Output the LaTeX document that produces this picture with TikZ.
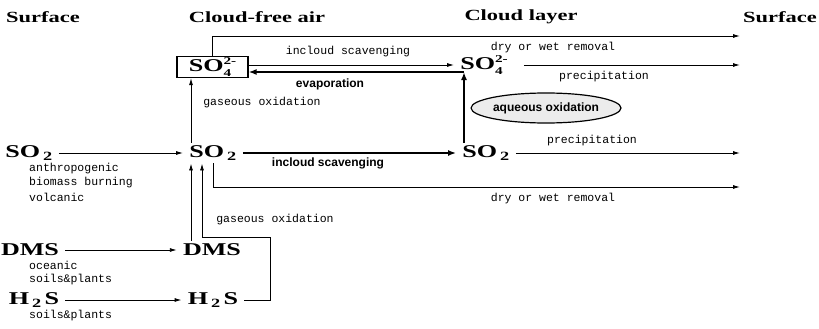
\documentclass[tikz,border=0pt]{standalone}
\usepackage{fontspec}
\setmainfont{Liberation Serif}
\newfontfamily\widefont[FakeStretch=1.45]{Liberation Serif}
\newfontfamily\monofont{Liberation Mono}
\newfontfamily\procfont{Liberation Sans}
\usepackage{tikz}
\usetikzlibrary{arrows.meta}
\usetikzlibrary{shapes.geometric}
\usetikzlibrary{positioning}

\newcommand{\ionsize}{\fontsize{10.5}{10.5}\selectfont}
\newcommand{\sulfate}{SO\rlap{\raisebox{0.85ex}{\ionsize 2-}}\raisebox{-0.6ex}{\ionsize 4}\hphantom{\ionsize -}}

\tikzset{
  header/.style={font=\fontsize{15.5}{17}\widefont\bfseries},
  chem/.style={font=\fontsize{18}{20}\widefont\bfseries, inner xsep=6pt, inner ysep=3pt},
  chembox/.style={chem, draw, line width=1.2pt, minimum width=71pt, minimum height=21pt, inner sep=0pt},
  note/.style={font=\fontsize{11.5}{13}\monofont, inner sep=0pt},
  process/.style={font=\fontsize{12}{14}\procfont\bfseries, inner sep=0pt},
  flow/.style={-{Latex[length=7pt,width=4pt]}, line width=0.9pt},
  bigflow/.style={-{Latex[length=8pt,width=6pt]}, line width=1.8pt},
}

\begin{document}
\begin{tikzpicture}[x=1pt, y=-1pt]
        \useasboundingbox (0,0) rectangle (819,329);
        % column headings
        \node[header] (hsurf) at (43,17) {Surface};
        \node[header] (hfree) at (257,17) {Cloud-free air};
        \node[header] (hcloud) at (521,17) {Cloud layer};
        \node[header] (hsurfr) at (780,17) {Surface};

        % species
        \node[chem] (so2l) at (29,153) {SO\,\textsubscript{2}};
        \node[chem] (so2m) at (213,153) {SO\,\textsubscript{2}};
        \node[chem] (so2r) at (486,153) {SO\,\textsubscript{2}};
        \node[chembox] (so4m) at (212.5,67) {\sulfate};
        \node[chem] (so4r) at (484,65) {\sulfate};
        \node[chem] (dmsl) at (30,250) {DMS};
        \node[chem] (dmsm) at (212,250) {DMS};
        \node[chem] (h2sl) at (34,300) {H\,\textsubscript{2}\,S};
        \node[chem] (h2sm) at (213,300) {H\,\textsubscript{2}\,S};
        \node[ellipse, draw, line width=1.2pt, fill=gray!15, minimum width=138pt,
              minimum height=30pt, inner sep=0pt, process] (aqox) at (546,108) {aqueous oxidation};

        % sources
        \node[note, anchor=west] (src1) at (29,169) {anthropogenic};
        \node[note, anchor=west] (src2) at (29,183) {biomass burning};
        \node[note, anchor=west] (src3) at (29,197) {volcanic};
        \node[note, anchor=west] (src4) at (29,265) {oceanic};
        \node[note, anchor=west] (src5) at (29,280) {soils\&plants};
        \node[note, anchor=west] (src6) at (29,316) {soils\&plants};

        % lanes and ends
        \coordinate (laneA) at (191,0);
        \coordinate (laneB) at (202,0);
        \coordinate (laneC) at (213,0);
        \coordinate (bend) at (270,237);
        \coordinate (ev) at (464,72);
        \coordinate (e1) at (740,36);
        \coordinate (e2) at (740,65);
        \coordinate (e3) at (740,153);
        \coordinate (e4) at (740,187);

        % emissions
        \draw[flow] (so2l) -- (so2m);
        \draw[flow] (dmsl) -- (dmsm);
        \draw[flow] (h2sl) -- (h2sm);

        % cloud-free air
        \draw[flow] (so2m.north -| laneA) -- (so4m.south -| laneA);
        \draw[flow] (dmsm.north -| laneA) -- (so2m.south -| laneA);
        \draw[flow] (h2sm.east) -| (bend) -| (so2m.south -| laneB);
        \draw[flow] (so4m.north) |- (e1);
        \draw[flow] (so2m.south -| laneC) |- (e4);
        \draw[flow] (so4m.east |- so4r.west) -- (so4r.west);
        \draw[bigflow] (so2m.east) -- (so2r.west);
        \draw[bigflow] (so2r.north -| ev) -- (ev);
        \draw[bigflow] (ev) -- (so4m.east |- ev);

        % cloud layer
        \draw[flow, shorten <=10pt] (so4r.east) -- (e2);
        \draw[flow] (so2r.east) -- (e3);

        % labels
        \node[note] (l1) at (348,52) {incloud scavenging};
        \node[note] (l2) at (553,48) {dry or wet removal};
        \node[process] (l3) at (330,84) {evaporation};
        \node[note] (l4) at (262,103) {gaseous oxidation};
        \node[note] (l5) at (604,77) {precipitation};
        \node[note] (l6) at (592,141) {precipitation};
        \node[process] (l7) at (328,163) {incloud scavenging};
        \node[note] (l8) at (553,199) {dry or wet removal};
        \node[note] (l9) at (275,220) {gaseous oxidation};
\end{tikzpicture}
\end{document}
